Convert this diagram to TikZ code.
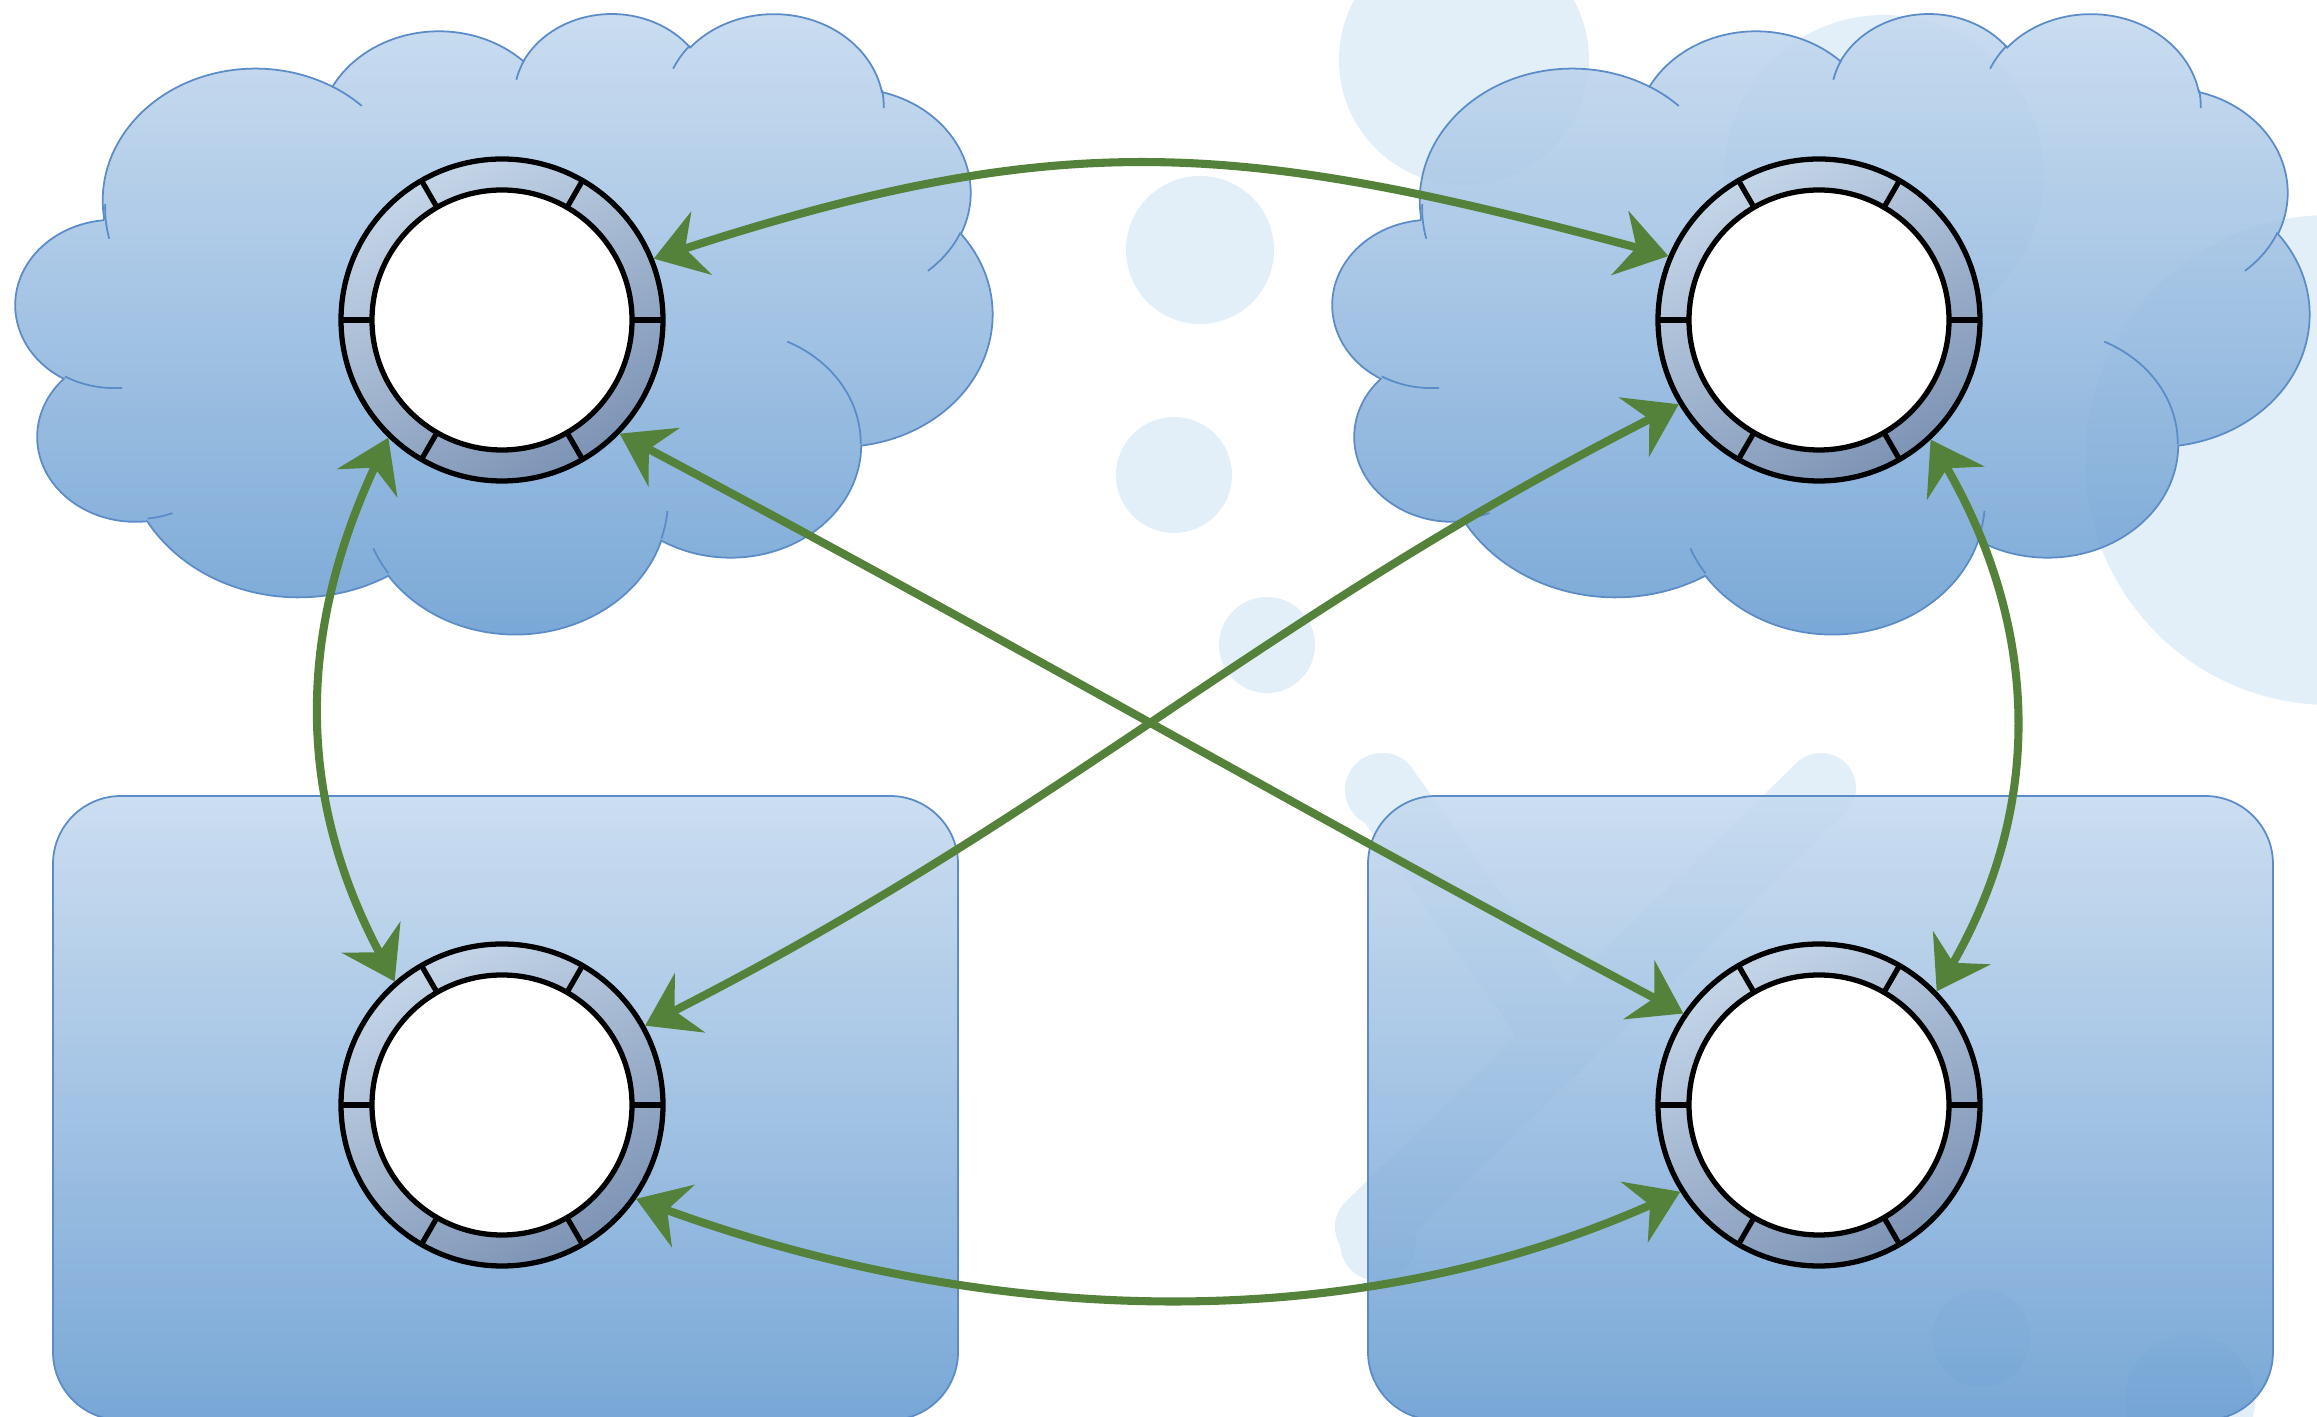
\documentclass[tikz,border=0pt]{standalone}
\usetikzlibrary{arrows.meta}

\definecolor{paleblue}{HTML}{E2EFF8}
\definecolor{boxtop}{HTML}{C6DAEF}
\definecolor{boxbottom}{HTML}{6A9ED2}
\definecolor{boxedge}{HTML}{5B8CC8}
\definecolor{ringlight}{HTML}{C4D5E8}
\definecolor{ringdark}{HTML}{7D94B5}
\definecolor{linkgreen}{HTML}{55823A}

\tikzset{
  % one puff of a cloud: x radius, y radius, start angle, sweep
  puff/.style n args={4}{x radius=#1, y radius=#2,
    start angle={atan2(#1*sin(#3),#2*cos(#3))},
    delta angle={mod(atan2(#1*sin(#3+#4),#2*cos(#3+#4))-atan2(#1*sin(#3),#2*cos(#3))+720,360)}},
  body/.style={draw=boxedge, line width=0.5pt, top color=boxtop, bottom color=boxbottom, fill opacity=0.9},
  seam/.style={draw=boxedge, line width=0.5pt},
  spot/.style={fill=paleblue},
  ring/.style={circle, inner sep=0pt, minimum size=3.22cm, draw, line width=1.5pt,
    top color=ringlight, bottom color=ringdark, shading angle=30},
  hub/.style={circle, inner sep=0pt, minimum size=2.60cm, draw, line width=1.5pt, fill=white},
  tick/.style={line width=1.5pt},
  link/.style={draw=linkgreen, line width=2.3pt, <->,
    >={Stealth[length=0.5cm, width=0.66cm, inset=0.17cm]}}
}

\begin{document}
\begin{tikzpicture}
  \useasboundingbox (0,0) rectangle (23.17,14.17);

  % faint spots in the background
  \fill[spot] (14.64,13.57) circle (1.25);
  \fill[spot] (12.00,11.67) circle (0.74);
  \fill[spot] (11.74,9.42) circle (0.58);
  \fill[spot] (12.67,7.72) circle (0.48);
  \fill[spot] (13.82,6.27) circle (0.37);
  \fill[spot] (18.84,12.42) circle (1.60);
  \fill[spot] (23.30,9.57) circle (2.45);
  \fill[spot] (19.81,0.79) circle (0.49);
  \fill[spot] (21.90,0.17) circle (0.65);
  \fill[spot] (13.78,1.74) circle (0.38);
  \draw[paleblue, line width=0.7cm, line cap=round] (13.83,6.29) -- (15.47,3.99);
  \draw[paleblue, line width=0.7cm, line cap=round] (18.21,6.29) -- (13.70,1.90);

  % the two clouds
  \foreach \cx in {0.16,13.33}{
    \begin{scope}[shift={(\cx cm,14.05cm)}, x=0.022593cm, y=-0.014352cm]
      \draw[body] (39,143.7)
        arc[puff={67.53}{91.90}{-190.4875}{123.7805}]
        arc[puff={53.33}{72.67}{-144.1024}{89.9452}]
        arc[puff={43.65}{59.45}{-145.8079}{99.7230}]
        arc[puff={48.57}{65.95}{-130.9861}{117.2417}]
        arc[puff={53.33}{72.73}{-78.7089}{109.0269}]
        arc[puff={67.75}{92.20}{-46.2673}{130.2690}]
        arc[puff={57.85}{78.67}{0.6250}{114.0333}]
        arc[puff={67.52}{92.15}{22.4516}{115.1726}]
        arc[puff={77.20}{105.43}{66.2426}{75.7110}]
        arc[puff={43.60}{59.18}{-274.9421}{146.7356}]
        arc[puff={43.45}{59.45}{-246.8285}{152.5189}]
        -- cycle;
      \draw[seam]
        (46.93,261.77) arc[puff={43.45}{59.45}{86.7420}{26.4295}]
        (69.28,348.99) arc[puff={43.60}{59.18}{73.6105}{11.4475}]
        (164.78,390.90) arc[puff={67.52}{92.15}{137.6242}{14.0811}]
        (288.27,347.51) arc[puff={67.52}{92.15}{6.4533}{15.9984}]
        (341.29,229.54) arc[puff={57.85}{78.67}{-70.2924}{70.9174}]
        (417.98,153.54) arc[puff={53.33}{72.73}{30.3180}{27.7515}]
        (383.24,54.26) arc[puff={48.57}{65.95}{-13.7443}{14.8589}]
        (290.78,39.52) arc[puff={48.57}{65.95}{-149.1815}{18.1954}]
        (221.41,47.20) arc[puff={43.65}{59.45}{-163.4943}{17.6864}]
        (140.00,51.92) arc[puff={67.53}{91.90}{-66.7070}{12.3194}]
        (41.27,157.89) arc[puff={67.53}{91.90}{162.0411}{20.4697}];
    \end{scope}
  }

  % the two boxes
  \draw[body, rounded corners=0.68cm] (0.53,-0.03) rectangle (9.58,6.21);
  \draw[body, rounded corners=0.68cm] (13.68,-0.03) rectangle (22.73,6.21);

  % rings
  \node[ring] (tl) at (5.02,10.97) {};
  \node[ring] (tr) at (18.19,10.97) {};
  \node[ring] (bl) at (5.02,3.12) {};
  \node[ring] (br) at (18.19,3.12) {};
  \foreach \n in {tl,tr,bl,br}{
    \node[hub] (\n-hub) at (\n) {};
    \foreach \a in {0,60,...,300}
      \draw[tick] ([shift={(\a:1.30)}]\n.center) -- ([shift={(\a:1.61)}]\n.center);
  }

  % links
  \draw[link] (tl.22) to[out=18, in=165, looseness=1.1] (tr.157);
  \draw[link] (tl.226) to[out=245, in=118] (bl.131);
  \draw[link] (tr.313) to[out=300, in=60] (br.44);
  \draw[link] (bl.-35) to[out=-20, in=204, looseness=0.9] (br.212);
  \draw[link] (tl.-44) to[out=-28, in=152] (br.146);
  \draw[link] (tr.211) to[out=207, in=27] (bl.29);
\end{tikzpicture}
\end{document}
